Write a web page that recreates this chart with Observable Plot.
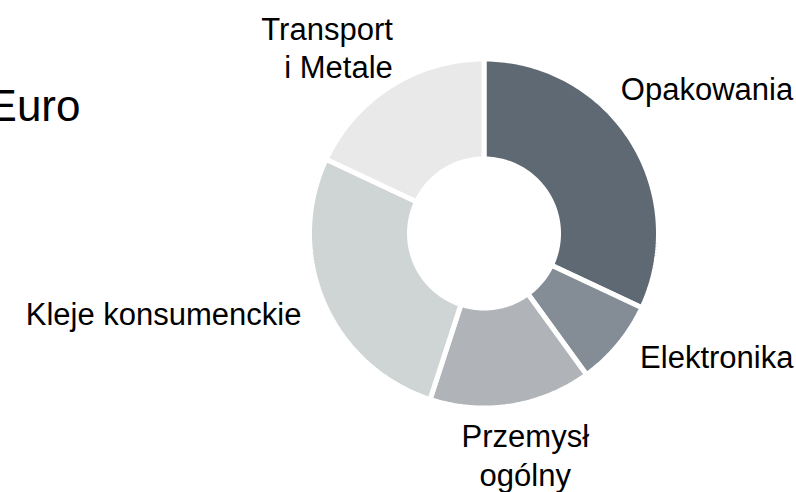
<!DOCTYPE html>
<html>
<head>
<meta charset="utf-8">
<script src="https://cdn.jsdelivr.net/npm/d3@7"></script>
<script src="https://cdn.jsdelivr.net/npm/@observablehq/plot@0.6"></script>
<style>
  html, body { margin: 0; padding: 0; background: #fff; overflow: hidden; }
  svg { display: block; }
</style>
</head>
<body>
<div id="chart"></div>
<script>
// ---- data ----
const categories = ["Opakowania", "Elektronika", "Przemysł\nogólny", "Kleje konsumenckie", "Transport\ni Metale"];
const shares = [32, 8, 15, 27, 18];
const colors = ["#5f6973", "#848d96", "#b0b4b8", "#cfd5d5", "#e9e9e9"];
const titleText = "Euro";

// ---- layout (pixels) ----
const W = 796, H = 492;
const cx = 483.5, cy = 233, R = 174.5, r = 74.5, labelR = 200;
const fs = 31;
// per-label anchor and nudge [textAnchor, dx, dy]
const labelStyle = {
  "Opakowania": ["start", -32, -39],
  "Elektronika": ["start", 2, -5],
  "Przemysł\nogólny": ["middle", 10, 23],
  "Kleje konsumenckie": ["end", 1, 0],
  "Transport\ni Metale": ["end", 16, -18]
};

const arcs = d3.pie().sort(null).value(d => d.v)(categories.map((c, i) => ({c, v: shares[i]})));

// slice outlines sampled along each arc
const pts = [];
for (const a of arcs) {
  const n = Math.max(8, Math.ceil((a.endAngle - a.startAngle) / (Math.PI / 180)));
  const ang = k => a.startAngle + (a.endAngle - a.startAngle) * k / n;
  for (let k = 0; k <= n; k++) pts.push({c: a.data.c, x: cx + R * Math.sin(ang(k)), y: cy - R * Math.cos(ang(k))});
  for (let k = n; k >= 0; k--) pts.push({c: a.data.c, x: cx + r * Math.sin(ang(k)), y: cy - r * Math.cos(ang(k))});
}

const labels = arcs.map(a => {
  const m = (a.startAngle + a.endAngle) / 2;
  const [anchor, dx, dy] = labelStyle[a.data.c];
  return {c: a.data.c, anchor, x: cx + labelR * Math.sin(m) + dx, y: cy - labelR * Math.cos(m) + dy};
});

const textMarks = ["start", "middle", "end"].map(anchor =>
  Plot.text(labels.filter(d => d.anchor === anchor), {
    x: "x", y: "y", text: "c", textAnchor: anchor,
    fontSize: fs, lineHeight: 1.25, fill: "#000"
  })
);

const chart = Plot.plot({
  width: W, height: H, margin: 0,
  style: {fontFamily: "'Liberation Sans', Arial, sans-serif", background: "#fff"},
  x: {domain: [0, W], range: [0, W], axis: null},
  y: {domain: [0, H], range: [0, H], axis: null},
  color: {domain: categories, range: colors},
  marks: [
    Plot.line(pts, {x: "x", y: "y", z: "c", fill: "c", stroke: "white", strokeWidth: 5, strokeLinejoin: "miter", curve: "linear-closed"}),
    ...textMarks,
    Plot.text([titleText], {frameAnchor: "left", textAnchor: "end", dx: 80, dy: -140, fontSize: 44, fill: "#000"})
  ]
});
document.getElementById("chart").append(chart);
</script>
</body>
</html>
